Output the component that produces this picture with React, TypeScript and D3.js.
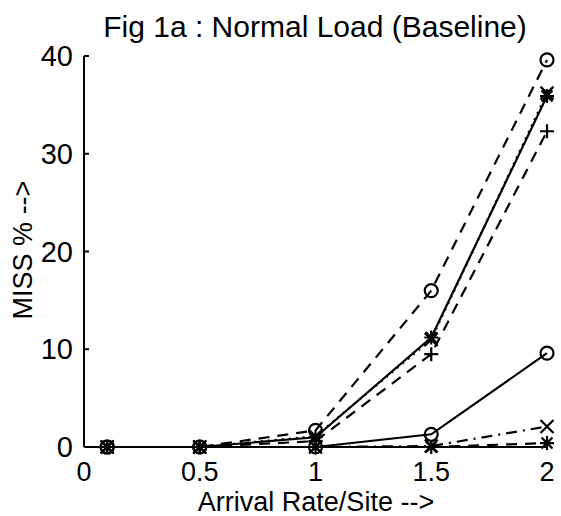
import React from "react";
import * as d3 from "d3";

const arrivalRates = [0.1, 0.5, 1, 1.5, 2];
const xTicks = [0, 0.5, 1, 1.5, 2];
const xTickLabels = ["0", "0.5", "1", "1.5", "2"];
const yTicks = [0, 10, 20, 30, 40];
const yTickLabels = ["0", "10", "20", "30", "40"];

const dashedCircle = [0, 0, 1.7, 16.0, 39.6];
const solidStar = [0, 0, 1.0, 11.2, 35.9];
const dottedX = [0, 0, 1.1, 11.0, 36.2];
const dashedPlus = [0, 0, 0.6, 9.5, 32.3];
const solidCircle = [0, 0, 0, 1.3, 9.6];
const dashDotX = [0, 0, 0, 0.1, 2.1];
const dashedStar = [0, 0, 0, 0, 0.4];

type Series = { values: number[]; dash: string | null; marker: string };
const seriesList: Series[] = [
  { values: dashedCircle, dash: "11,8", marker: "o" },
  { values: solidStar, dash: null, marker: "*" },
  { values: dottedX, dash: "2,5", marker: "x" },
  { values: dashedPlus, dash: "11,8", marker: "+" },
  { values: solidCircle, dash: null, marker: "o" },
  { values: dashDotX, dash: "11,6,2,6", marker: "x" },
  { values: dashedStar, dash: "11,8", marker: "*" },
];

const W = 561;
const H = 516;
const x = d3.scaleLinear().domain([0, 2]).range([84, 547]);
const y = d3.scaleLinear().domain([0, 40]).range([447, 56]);
const FONT = "'Liberation Sans', Arial, Helvetica, sans-serif";

function markerPath(m: string, cx: number, cy: number): string {
  const p = d3.path();
  if (m === "o") {
    p.moveTo(cx + 6.5, cy);
    p.arc(cx, cy, 6.5, 0, Math.PI * 2);
  } else if (m === "x") {
    const s = 6.5;
    p.moveTo(cx - s, cy - s); p.lineTo(cx + s, cy + s);
    p.moveTo(cx - s, cy + s); p.lineTo(cx + s, cy - s);
  } else if (m === "+") {
    const s = 7;
    p.moveTo(cx - s, cy); p.lineTo(cx + s, cy);
    p.moveTo(cx, cy - s); p.lineTo(cx, cy + s);
  } else if (m === "*") {
    const s = 7;
    const d = 5.5;
    p.moveTo(cx - s, cy); p.lineTo(cx + s, cy);
    p.moveTo(cx, cy - s); p.lineTo(cx, cy + s);
    p.moveTo(cx - d, cy - d); p.lineTo(cx + d, cy + d);
    p.moveTo(cx - d, cy + d); p.lineTo(cx + d, cy - d);
  }
  return p.toString();
}

export default function App() {
  const line = d3
    .line<number>()
    .x((_, i) => x(arrivalRates[i]))
    .y((v) => y(v));

  return (
    <svg
      width={W}
      height={H}
      style={{ position: "absolute", left: 0, top: 0, background: "#fff" }}
    >
      <rect x={0} y={0} width={W} height={H} fill="#fff" />
      <text
        x={315}
        y={37}
        textAnchor="middle"
        fontFamily={FONT}
        fontSize={30}
        fill="#000"
      >
        Fig 1a : Normal Load (Baseline)
      </text>

      {/* axes */}
      <line x1={x(0)} x2={x(0)} y1={y(40)} y2={y(0)} stroke="#000" strokeWidth={2} />
      <line x1={x(0)} x2={x(2)} y1={y(0)} y2={y(0)} stroke="#000" strokeWidth={2} />
      {yTicks.map((t, i) => (
        <g key={"yt" + t}>
          <line x1={x(0)} x2={x(0) + 5} y1={y(t)} y2={y(t)} stroke="#000" strokeWidth={2} />
          <text
            x={73}
            y={y(t) + 10}
            textAnchor="end"
            fontFamily={FONT}
            fontSize={29}
            fill="#000"
          >
            {yTickLabels[i]}
          </text>
        </g>
      ))}
      {xTicks.map((t, i) => (
        <g key={"xt" + t}>
          <line x1={x(t)} x2={x(t)} y1={y(0)} y2={y(0) - 5} stroke="#000" strokeWidth={2} />
          <text
            x={x(t)}
            y={481}
            textAnchor="middle"
            fontFamily={FONT}
            fontSize={27}
            fill="#000"
          >
            {xTickLabels[i]}
          </text>
        </g>
      ))}
      <text
        x={316}
        y={511}
        textAnchor="middle"
        fontFamily={FONT}
        fontSize={27}
        fill="#000"
      >
        Arrival Rate/Site --&gt;
      </text>
      <text
        transform={`translate(32, 250) rotate(-90)`}
        textAnchor="middle"
        fontFamily={FONT}
        fontSize={27}
        fill="#000"
      >
        MISS % --&gt;
      </text>

      {/* series */}
      {seriesList.map((s, si) => (
        <g key={"s" + si}>
          <path
            d={line(s.values) || ""}
            fill="none"
            stroke="#000"
            strokeWidth={2.2}
            strokeDasharray={s.dash || undefined}
          />
          {s.values.map((v, i) => (
            <path
              key={i}
              d={markerPath(s.marker, x(arrivalRates[i]), y(v))}
              fill="none"
              stroke="#000"
              strokeWidth={2.2}
            />
          ))}
        </g>
      ))}
    </svg>
  );
}
